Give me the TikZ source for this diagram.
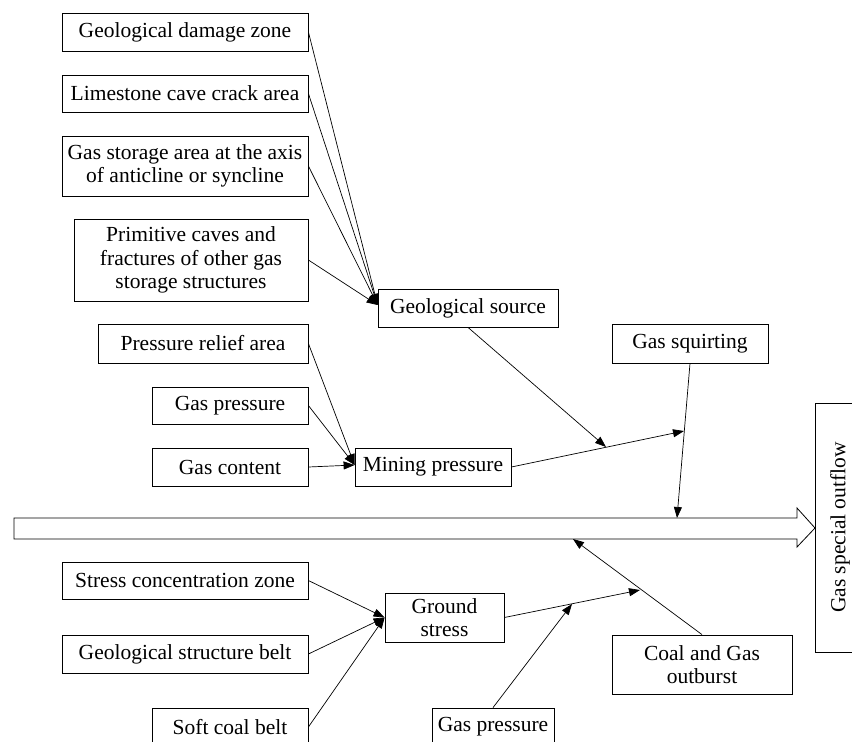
\documentclass[tikz,border=0pt]{standalone}
\usepackage{fontspec}
\setmainfont{Liberation Serif}
\usetikzlibrary{arrows.meta,calc}
\begin{document}
\begin{tikzpicture}[x=1pt,y=-1pt,
  box/.style={draw, line width=0.8pt, rectangle, inner sep=0pt, align=center,
    font=\fontsize{21.5}{23.3}\selectfont},
  arr/.style={-{Triangle[length=11pt,width=8pt]}, line width=0.7pt},
  plain/.style={line width=0.7pt}]
\useasboundingbox (0,0) rectangle (852,742);
\clip (0,0) rectangle (852,742);
\fill[white] (0,0) rectangle (852,742);
% top group
\node[box, minimum width=246pt, minimum height=38pt] (gdz) at (185,32) {Geological damage zone};
\node[box, minimum width=246pt, minimum height=37pt] (lcca) at (185,93.5) {Limestone cave crack area};
\node[box, minimum width=246pt, minimum height=60pt] (gsa) at (185,166) {Gas storage area at the axis\\of anticline or syncline};
\node[box, minimum width=234pt, minimum height=82pt] (pc) at (191,260) {Primitive caves and\\fractures of other gas\\storage structures};
\node[box, minimum width=180pt, minimum height=38pt] (gs) at (468,308) {Geological source};
% middle group
\node[box, minimum width=210pt, minimum height=39pt] (pra) at (203,343.5) {Pressure relief area};
\node[box, minimum width=156pt, minimum height=37pt] (gp1) at (230,405.5) {Gas pressure};
\node[box, minimum width=156pt, minimum height=38pt] (gc) at (230,467) {Gas content};
\node[box, minimum width=156pt, minimum height=38pt] (mp) at (433,467) {Mining pressure};
\node[box, minimum width=156pt, minimum height=39pt] (gsq) at (690,343.5) {Gas squirting};
% right box
\node[box, minimum width=249pt, minimum height=50pt, rotate=90] (gso) at (840,527.5) {Gas special outflow};
% bottom group
\node[box, minimum width=246pt, minimum height=37pt] (scz) at (185,580.5) {Stress concentration zone};
\node[box, minimum width=246pt, minimum height=38pt] (gsb) at (185,654) {Geological structure belt};
\node[box, minimum width=156pt, minimum height=38pt] (scb) at (230,727) {Soft coal belt};
\node[box, minimum width=119pt, minimum height=49pt] (grs) at (444.5,617.5) {Ground\\stress};
\node[box, minimum width=122pt, minimum height=38pt] (gp2) at (493,727) {Gas pressure};
\node[box, minimum width=180pt, minimum height=59pt] (cgo) at (702,664.5) {Coal and Gas\\outburst};
% big arrow
\draw[line width=0.8pt, fill=white] (14,518) -- (797,518) -- (797,508) -- (815,528) -- (797,547) -- (797,539) -- (14,539) -- cycle;
% coordinates
\coordinate (gsin) at ($(gs.west)+(0,-3)$);
\coordinate (mpin) at ($(mp.west)+(0,-2)$);
\coordinate (j1) at (684,431);
\coordinate (j1b) at (606,447);
\coordinate (sqt) at (677,518);
\coordinate (j2) at (640,590);
\coordinate (j2b) at (572,604);
\coordinate (cgb) at (573,539);
% connectors top
\draw[arr] (gdz.east) -- (gsin);
\draw[arr] (lcca.east) -- (gsin);
\draw[arr] (gsa.east) -- (gsin);
\draw[arr] (pc.east) -- (gsin);
\draw[arr] (pra.east) -- (mpin);
\draw[arr] (gp1.east) -- (mpin);
\draw[arr] (gc.east) -- (mpin);
\draw[arr] (gs.south) -- (j1b);
\draw[arr] (mp.east) -- (j1);
\draw[arr] (gsq.south) -- (sqt);
% connectors bottom
\draw[arr] (scz.east) -- (grs.west);
\draw[arr] (gsb.east) -- (grs.west);
\draw[arr] (scb.east) -- (grs.west);
\draw[arr] (grs.east) -- (j2);
\draw[arr] (gp2.north) -- (j2b);
\draw[arr] (cgo.north) -- (cgb);
\end{tikzpicture}
\end{document}
